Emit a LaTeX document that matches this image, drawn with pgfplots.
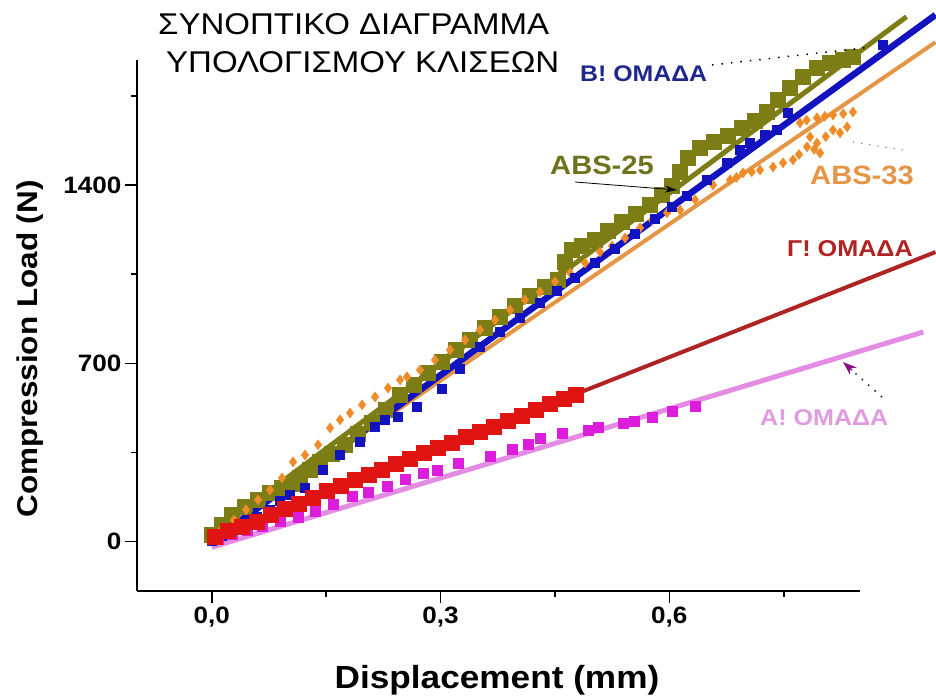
\documentclass[border=0pt]{standalone}
\usepackage{fontspec}
\setmainfont{Liberation Sans}[FakeStretch=1.1]
\usepackage{pgfplots}
\pgfplotsset{compat=1.18}
\usetikzlibrary{arrows.meta}

\definecolor{olivec}{RGB}{125,125,22}
\definecolor{olivet}{RGB}{110,115,30}
\definecolor{bluec}{RGB}{18,18,190}
\definecolor{bluet}{RGB}{30,40,140}
\definecolor{orangec}{RGB}{240,140,40}
\definecolor{orangel}{RGB}{228,150,70}
\definecolor{redc}{RGB}{225,20,20}
\definecolor{redl}{RGB}{175,35,35}
\definecolor{magc}{RGB}{220,30,220}
\definecolor{pinkl}{RGB}{228,140,228}
\definecolor{pinkt}{RGB}{225,155,225}

\newcommand{\fs}[1]{\fontsize{#1}{#1}\selectfont}

\begin{document}
\begin{tikzpicture}[x=1pt,y=1pt]
\path[use as bounding box] (0,0) rectangle (936,697);
\begin{axis}[
  at={(137pt,106pt)}, anchor=south west,
  scale only axis, width=723pt, height=531pt,
  xmin=-0.098, xmax=0.85, ymin=-194, ymax=1891,
  axis x line=bottom, axis y line=left,
  axis line style={-, line width=1.6pt},
  clip=false,
  xtick={0,0.3,0.6}, minor xtick={0.15,0.45,0.75},
  ytick={0,700,1400}, minor ytick={350,1050,1750},
  tick align=outside, major tick length=12pt, minor tick length=6pt,
  every tick/.style={line width=1.6pt, black},
  /pgf/number format/assume math mode=true,
  xticklabel style={font=\fs{23.7}\bfseries, /pgf/number format/.cd, fixed, fixed zerofill, precision=1, use comma},
  yticklabel style={font=\fs{23.7}\bfseries, /pgf/number format/.cd, 1000 sep={}},
  scaled ticks=false,
]
% ABS-25
\addplot[olivec, line width=5pt] coordinates {(0,30) (0.911,2061)};
\addplot[olivec, line width=6pt, mark=square*, mark size=5pt, mark options={solid}] table {
0.0004 26
0.0135 66
0.0266 105
0.0437 136
0.0607 164
0.0764 191
0.0921 211
0.1053 227
0.1158 250
0.1289 282
0.1420 313
0.1577 344
0.1748 380
0.1918 423
0.2102 466
0.2285 517
0.2469 576
0.2652 615
0.2836 662
0.3019 706
0.3203 753
0.3386 792
0.3583 839
0.3780 882
0.3977 925
0.4173 965
0.4370 1000
0.4540 1028
0.4632 1098
0.4724 1145
0.4855 1161
0.5025 1185
0.5196 1220
0.5380 1255
0.5563 1287
0.5747 1322
0.5904 1361
0.6035 1397
0.6140 1452
0.6245 1507
0.6402 1546
0.6586 1569
0.6769 1593
0.6953 1624
0.7123 1652
0.7281 1687
0.7425 1734
0.7582 1781
0.7753 1825
0.7936 1860
0.8107 1879
0.8277 1891
0.8408 1903
};
% ABS-33
\addplot[only marks, mark=diamond*, mark size=5pt, orangec] table {
0.0004 18
0.0135 50
0.0292 85
0.0450 125
0.0607 164
0.0764 203
0.0921 250
0.1066 313
0.1223 340
0.1394 380
0.1551 446
0.1682 478
0.1813 505
0.1971 537
0.2141 568
0.2311 603
0.2469 635
0.2560 647
0.2731 674
0.2927 713
0.3124 753
0.3321 792
0.3518 831
0.3714 870
0.3911 910
0.4108 949
0.4304 980
0.4501 1020
0.4698 1055
0.4895 1094
0.5091 1137
0.5249 1161
0.5419 1192
0.5616 1232
0.5773 1263
0.5970 1291
0.6140 1302
0.6337 1342
0.6573 1400
0.6796 1420
0.6880 1430
0.6966 1448
0.7080 1452
0.7189 1459
0.7360 1471
0.7491 1487
0.7622 1499
0.7700 1520
0.7805 1550
0.7976 1526
0.7900 1540
0.7845 1589
0.8146 1616
0.8330 1628
0.8238 1605
0.7713 1644
0.7800 1655
0.7936 1664
0.8040 1670
0.8146 1675
0.8280 1680
0.8408 1687
0.7936 1565
0.8050 1590
};
\addplot[orangel, line width=4pt] coordinates {(0,18) (0.949,1961)};
% B! group
\addplot[only marks, mark=square*, mark size=4.5pt, bluec] table {
0.0000 3
0.0135 22
0.0305 46
0.0476 77
0.0594 97
0.0764 125
0.0895 160
0.1026 183
0.1223 211
0.1459 282
0.1682 340
0.1944 391
0.2141 450
0.2272 478
0.2442 490
0.2691 529
0.3019 600
0.3255 680
0.3518 767
0.3780 824
0.4042 881
0.4304 938
0.4527 986
0.4763 1038
0.5026 1095
0.5288 1152
0.5550 1209
0.5812 1266
0.6035 1315
0.6232 1358
0.6494 1420
0.6756 1487
0.6927 1538
0.7058 1565
0.7254 1597
0.7412 1616
0.7556 1683
0.8802 1950
};
\addplot[bluec, line width=6.5pt] coordinates {(0,0) (0.949,2068)};
% A! group
\addplot[only marks, mark=square*, mark size=5pt, magc] table {
0.0083 11
0.0266 30
0.0463 46
0.0659 62
0.0895 81
0.1131 97
0.1354 121
0.1590 148
0.1839 179
0.2049 195
0.2298 219
0.2534 246
0.2770 270
0.2954 282
0.3229 309
0.3649 337
0.3937 364
0.4147 384
0.4304 407
0.4593 427
0.4934 439
0.5065 450
0.5393 466
0.5537 474
0.5773 490
0.6035 513
0.6337 533
};
\addplot[pinkl, line width=5pt] coordinates {(0,-22) (0.933,823)};
% G! group
\addplot[redc, line width=5pt, mark=square*, mark size=5.5pt, mark options={solid}] table {
0.004 18
0.021 42
0.040 58
0.059 77
0.078 105
0.096 128
0.114 148
0.133 172
0.151 199
0.170 219
0.188 242
0.206 262
0.223 282
0.242 305
0.260 325
0.278 348
0.297 368
0.315 388
0.333 411
0.352 431
0.370 450
0.389 474
0.407 494
0.425 517
0.444 541
0.462 560
0.478 576
};
\addplot[redl, line width=4pt] coordinates {(0.478,580) (0.949,1137)};
\end{axis}

% axis labels
\node[rotate=90, font=\fs{28.6}\bfseries] at (30,348) {Compression Load (N)};
\node[anchor=base, font=\fs{32}\bfseries] at (497,9) {Displacement (mm)};

% title
\node[anchor=base west, font=\fs{30}, inner sep=0pt] at (158,662) {ΣΥΝΟΠΤΙΚΟ ΔΙΑΓΡΑΜΜΑ};
\node[anchor=base west, font=\fs{30}, inner sep=0pt] at (166,624) {ΥΠΟΛΟΓΙΣΜΟΥ ΚΛΙΣΕΩΝ};

% annotations
\node[anchor=base west, inner sep=0pt, font=\fs{22.6}\bfseries, text=bluet] at (580,615) {Β! ΟΜΑΔΑ};
\draw[black, line width=1.5pt, dash pattern=on 1.5pt off 8pt] (712,632) -- (872,650);
\node[anchor=base west, inner sep=0pt, font=\fs{26.5}\bfseries, text=olivet] at (550,522) {ABS-25};
\draw[black, line width=0.8pt, -{Stealth[length=12pt,width=7pt]}] (575,515) -- (677,507);
\node[anchor=base west, inner sep=0pt, font=\fs{26.5}\bfseries, text=orangel] at (810,512) {ABS-33};
\draw[gray, line width=1.2pt, dash pattern=on 1.2pt off 7pt] (853,555) -- (903,547);
\node[anchor=base west, inner sep=0pt, font=\fs{22.9}\bfseries, text=redl] at (787,440) {Γ! ΟΜΑΔΑ};
\node[anchor=base west, inner sep=0pt, font=\fs{22.8}\bfseries, text=pinkt] at (760,272) {Α! ΟΜΑΔΑ};
\draw[black!70!magc, line width=1.5pt, dash pattern=on 1.5pt off 7pt] (882,300) -- (855,324);
\draw[black!40!magc, line width=1.5pt, -{Stealth[length=14pt,width=10pt]}] (852,327) -- (843,335);
\end{tikzpicture}
\end{document}
